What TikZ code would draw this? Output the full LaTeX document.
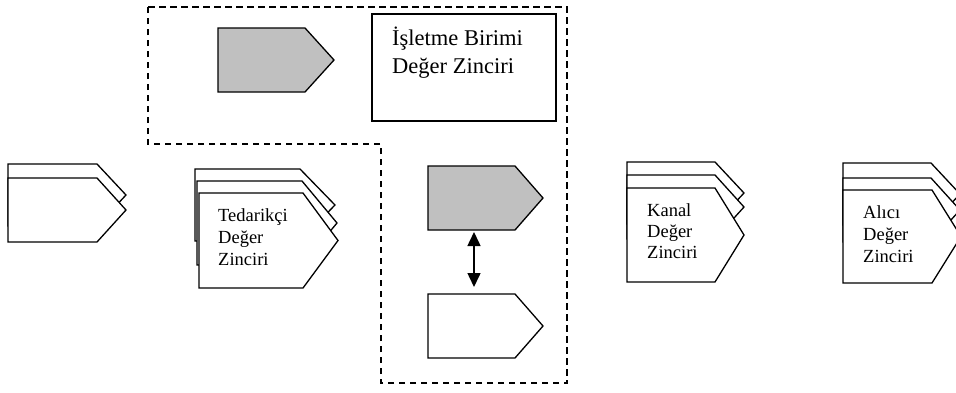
\documentclass[tikz,border=0pt]{standalone}
\usepackage{fontspec}
\setmainfont{Liberation Serif}
\usetikzlibrary{calc,arrows.meta}
\definecolor{shade}{RGB}{192,192,192}
\tikzset{
  body/.style={inner sep=0pt, outer sep=0pt, anchor=north west},
  pent/.style={draw=black, line width=1.3pt, line join=miter, fill=white},
  grey/.style={fill=shade},
  frame/.style={draw=black, line width=1.3pt, dash pattern=on 6.5pt off 4.5pt},
  lbl/.style={inner sep=0pt, anchor=base west, font=\fontsize{18.5}{22}\selectfont},
  big/.style={font=\fontsize{22.5}{28}\selectfont},
  dbl/.style={line width=1.5pt, {Triangle[width=13pt,length=14pt]}-{Triangle[width=13pt,length=14pt]}}
}
\newcommand\pentagon[7]{%
  \node[body, minimum width=#4pt, minimum height=#5pt] (#1) at (#2,#3) {};
  \draw[pent,#7] (#1.north west) -- (#1.north east) -- ($(#1.east)+(#6,0)$) -- (#1.south east) -- (#1.south west) -- cycle;}
\begin{document}
\begin{tikzpicture}[x=1pt,y=-1pt]
\clip (0,0) rectangle (956,392);
\fill[white] (0,0) rectangle (956,392);
% dashed business unit region
\draw[frame] (148,7) -- (567,7) -- (567,383) -- (381,383) -- (381,144) -- (148,144) -- cycle;
% rectangle label box
\node[body, draw=black, line width=1.3pt, fill=white, minimum width=184pt, minimum height=107pt] (box) at (372,14) {};
\node[lbl, big] (t0) at (392,45) {\vtop{\hbox{İşletme Birimi}\hbox{Değer Zinciri}}};
% top grey
\pentagon{tg}{218}{28}{87}{64}{29}{grey}
% middle grey and white
\pentagon{mg}{428}{166}{87}{64}{28}{grey}
\pentagon{mw}{428}{294}{87}{64}{28}{}
\draw[dbl, shorten <=2pt, shorten >=7pt] ($(mg.south)+(2.5,0)$) -- ($(mw.north)+(2.5,0)$);
% left stack
\pentagon{l1}{8}{164}{89}{62}{29}{}
\pentagon{l2}{8}{178}{89}{64}{29}{}
% supplier stack
\pentagon{s1}{195}{169}{105}{72}{35}{}
\pentagon{s2}{197}{181}{105}{84}{35}{}
\pentagon{s3}{199}{193}{104}{95}{35}{}
\node[lbl] (t1) at (218,221) {\vtop{\hbox{Tedarikçi}\hbox{Değer}\hbox{Zinciri}}};
% channel stack
\pentagon{k1}{627}{162}{88}{62}{29}{}
\pentagon{k2}{627}{175}{88}{64}{29}{}
\pentagon{k3}{627}{188}{88}{94}{29}{}
\node[lbl, font=\fontsize{18.5}{21}\selectfont] (t2) at (647,216) {\vtop{\hbox{Kanal}\hbox{Değer}\hbox{Zinciri}}};
% buyer stack
\pentagon{a1}{843}{163}{88}{62}{29}{}
\pentagon{a2}{843}{178}{88}{64}{29}{}
\pentagon{a3}{843}{190}{89}{93}{29}{}
\node[lbl] (t3) at (863,218) {\vtop{\hbox{Alıcı}\hbox{Değer}\hbox{Zinciri}}};
\end{tikzpicture}
\end{document}
